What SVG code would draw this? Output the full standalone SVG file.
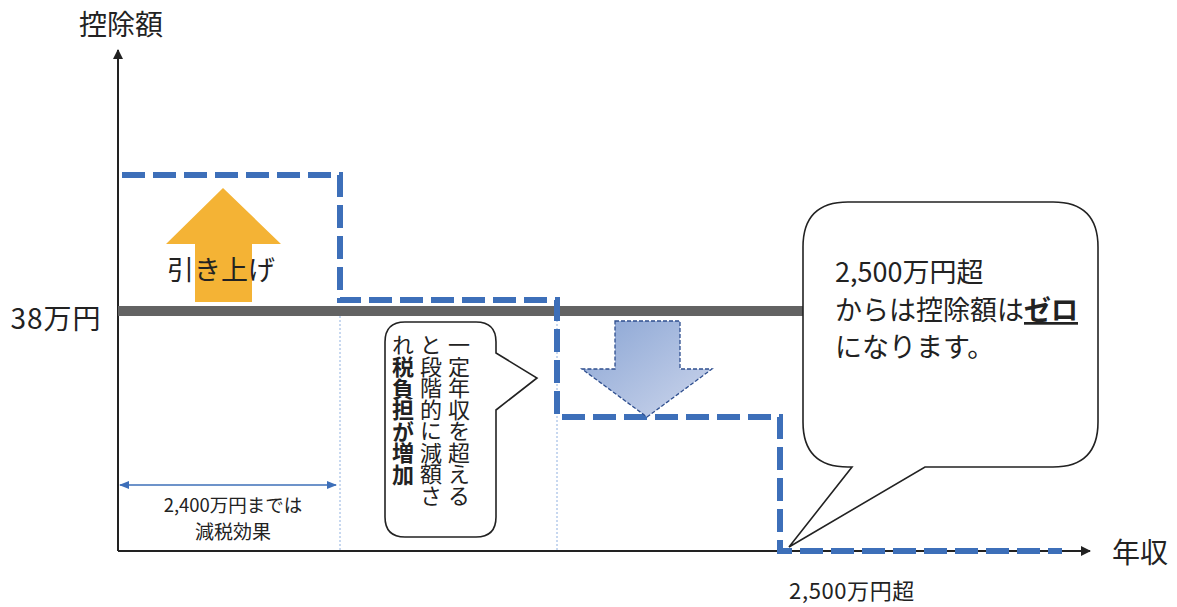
<svg xmlns="http://www.w3.org/2000/svg" width="1177" height="607" viewBox="0 0 1177 607">
<style>
.t{font-family:"Noto Sans CJK JP","Noto Sans",sans-serif;fill:#222}
.dash{fill:none;stroke:#3d6fb9;stroke-width:6;stroke-dasharray:23 8}
.guide{stroke:#8fb0e0;stroke-width:1;stroke-dasharray:2 2}
.bub{fill:#fff;stroke:#222;stroke-width:1.6}
</style>
<defs>
<marker id="ah" markerWidth="10" markerHeight="10" refX="9" refY="5" orient="auto" markerUnits="userSpaceOnUse">
<path d="M0,0 L10,5 L0,10 z" fill="#222"/>
</marker>
<marker id="bh" markerWidth="10" markerHeight="10" refX="9" refY="5" orient="auto-start-reverse" markerUnits="userSpaceOnUse">
<path d="M0,1 L10,5 L0,9 z" fill="#3d6fb9"/>
</marker>
<linearGradient id="g" x1="0" y1="0" x2="1" y2="1">
<stop offset="0" stop-color="#8aa5d4"/>
<stop offset="1" stop-color="#cdd6ec"/>
</linearGradient>
</defs>
<rect width="1177" height="607" fill="#fff"/>

<g id="axes">
<line x1="118" y1="551" x2="118" y2="50" stroke="#222" stroke-width="2" marker-end="url(#ah)"/>
<line x1="118" y1="551" x2="1090" y2="551" stroke="#222" stroke-width="2" marker-end="url(#ah)"/>
<text class="t" x="121" y="35" font-size="28" text-anchor="middle">控除額</text>
<text class="t" x="1140" y="563" font-size="28" text-anchor="middle">年収</text>
<text class="t" x="56" y="329" font-size="28" text-anchor="middle" letter-spacing="1">38万円</text>
<text class="t" x="852" y="599" font-size="22" text-anchor="middle" letter-spacing="0.6">2,500万円超</text>
</g>

<g id="baseline">
<line x1="118" y1="311" x2="806" y2="311" stroke="#636363" stroke-width="10"/>
</g>

<g id="guides">
<line class="guide" x1="340" y1="316" x2="340" y2="551"/>
<line class="guide" x1="557" y1="316" x2="557" y2="551"/>
</g>

<g id="deduction-line">
<path class="dash" d="M122,175 H340 V300 H557 V417 H780 V551 H1062"/>
</g>

<g id="range">
<line x1="120" y1="485" x2="336" y2="485" stroke="#3d6fb9" stroke-width="1.3" marker-start="url(#bh)" marker-end="url(#bh)"/>
<text class="t" x="233" y="512" font-size="18.5" text-anchor="middle">2,400万円までは</text>
<text class="t" x="233" y="539" font-size="19" text-anchor="middle">減税効果</text>
</g>

<g id="up-arrow">
<path d="M223,188 L281,244 L252,244 L252,302 L195,302 L195,244 L166,244 Z" fill="#f4b335"/>
<text class="t" x="221" y="280" font-size="27" text-anchor="middle">引き上げ</text>
</g>

<g id="down-arrow">
<path d="M615,321 H680 V369 H712 L647,417 L582,369 H615 Z" fill="url(#g)" stroke="#2f4f8f" stroke-width="1.3" stroke-dasharray="4 2"/>
</g>

<g id="bubble-left">
<path class="bub" d="M405,322 H476 Q496,322 496,342 V353 L537,378 L496,410 V517 Q496,537 476,537 H405 Q385,537 385,517 V342 Q385,322 405,322 Z"/>
<text class="t" x="459" y="334" font-size="22" style="writing-mode:vertical-rl" letter-spacing="-0.5">一定年収を超える</text>
<text class="t" x="431" y="334" font-size="22" style="writing-mode:vertical-rl" letter-spacing="-0.5">と段階的に減額さ</text>
<text class="t" x="403" y="334" font-size="22" style="writing-mode:vertical-rl" letter-spacing="-0.5">れ<tspan font-weight="bold">税負担が増加</tspan></text>
</g>

<g id="bubble-right">
<path class="bub" d="M848,202 H1053 Q1098,202 1098,247 V422 Q1098,467 1053,467 H925 L789,547 L852,467 H848 Q803,467 803,422 V247 Q803,202 848,202 Z"/>
<text class="t" x="835" y="282" font-size="27">2,500万円超</text>
<text class="t" x="835" y="320" font-size="27">からは控除額は<tspan font-weight="bold" text-decoration="underline">ゼロ</tspan></text>
<text class="t" x="835" y="357" font-size="27">になります。</text>
</g>
</svg>
